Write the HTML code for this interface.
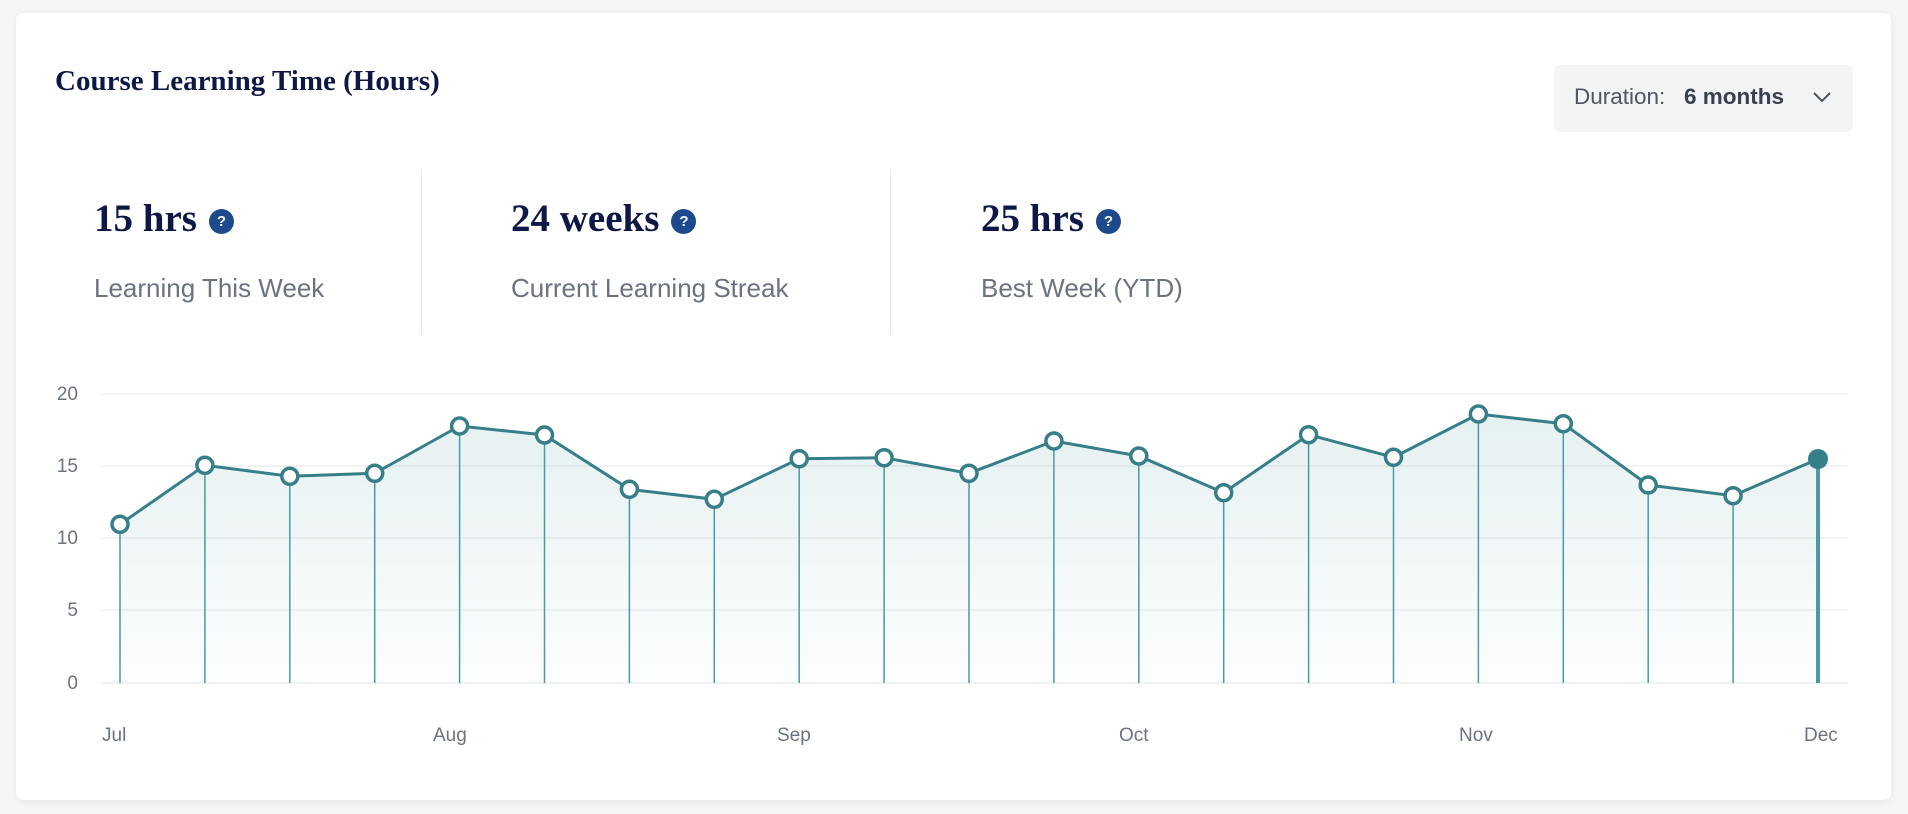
<!DOCTYPE html>
<html><head><meta charset="utf-8"><style>
html,body{margin:0;padding:0;width:1908px;height:814px;background:#f4f5f7;overflow:hidden;font-family:"Liberation Sans",sans-serif}
.card{position:absolute;left:16px;top:13px;width:1875px;height:787px;background:#fff;border-radius:7px;box-shadow:0 2px 8px rgba(0,0,0,0.06)}
.abs{position:absolute;white-space:nowrap}
.title{left:55px;top:65px;font-family:"Liberation Serif",serif;font-weight:bold;font-size:29px;color:#0d1846}
.dd{left:1554px;top:65px;width:299px;height:67px;background:#f3f4f6;border-radius:6px}
.big{font-family:"Liberation Serif",serif;font-weight:bold;font-size:39px;color:#0d1846;top:196px}
.q{display:inline-block;width:25px;height:25px;border-radius:50%;background:#1d4a8c;color:#fff;font:bold 15px "Liberation Sans",sans-serif;text-align:center;line-height:25px;vertical-align:5px;margin-left:12px}
.lab{font-size:26px;color:#6b7280;top:273px}
.div{position:absolute;top:170px;width:1px;height:163px;background:#e5e7eb}
</style></head><body>
<div class="card"></div>
<div class="abs title">Course Learning Time (Hours)</div>
<div class="abs dd"></div>
<div class="abs" style="left:1574px;top:84px;font-size:22.5px;color:#4b5563">Duration:</div>
<div class="abs" style="left:1684px;top:84px;font-size:22.5px;font-weight:bold;color:#374151">6 months</div>
<svg class="abs" style="left:1812px;top:90px" width="20" height="14"><path d="M2 3 L10 11 L18 3" fill="none" stroke="#4b5563" stroke-width="2"/></svg>
<div class="abs big" style="left:94px">15 hrs<span class="q">?</span></div>
<div class="abs big" style="left:511px">24 weeks<span class="q">?</span></div>
<div class="abs big" style="left:981px">25 hrs<span class="q">?</span></div>
<div class="abs lab" style="left:94px">Learning This Week</div>
<div class="abs lab" style="left:511px">Current Learning Streak</div>
<div class="abs lab" style="left:981px">Best Week (YTD)</div>
<div class="div" style="left:421px"></div>
<div class="div" style="left:890px"></div>
<svg class="abs" style="left:0;top:0" width="1908" height="814">
<defs><linearGradient id="g" x1="0" y1="0" x2="0" y2="1"><stop offset="0" stop-color="#3a8f96" stop-opacity="0.13"/><stop offset="1" stop-color="#3a8f96" stop-opacity="0.01"/></linearGradient></defs>
<g stroke="#f1f2f4" stroke-width="2">
<line x1="102" x2="1848" y1="394" y2="394"/><line x1="102" x2="1848" y1="466" y2="466"/><line x1="102" x2="1848" y1="538" y2="538"/><line x1="102" x2="1848" y1="610" y2="610"/><line x1="102" x2="1848" y1="683" y2="683"/>
</g>
<g font-family="Liberation Sans" font-size="19" fill="#6b7280" text-anchor="end">
<text x="78" y="400">20</text><text x="78" y="472">15</text><text x="78" y="544">10</text><text x="78" y="616">5</text><text x="78" y="689">0</text>
</g>
<g font-family="Liberation Sans" font-size="19" fill="#6b7280">
<text x="102" y="741">Jul</text><text x="433" y="741">Aug</text><text x="777" y="741">Sep</text><text x="1119" y="741">Oct</text><text x="1459" y="741">Nov</text><text x="1804" y="741">Dec</text>
</g>
<g id="chart"></g>
</svg>
<script>
var ys=[524.3,465.3,476.3,473.3,426,435,489.3,499.3,458.7,457.7,473.3,441,456,492.7,434.7,457.3,414,423.7,485,495.7,459];
var s='',pts=[];
for(var i=0;i<ys.length;i++){var x=120+i*84.9;pts.push(x.toFixed(1)+','+ys[i]);}
s+='<polygon points="120,683 '+pts.join(' ')+' 1818,683" fill="url(#g)"/>';
for(var i=0;i<ys.length;i++){var x=120+i*84.9;var last=i==ys.length-1;
s+='<line x1="'+x+'" x2="'+x+'" y1="'+ys[i]+'" y2="683" stroke="#4a9aa5" stroke-width="'+(last?4:1.5)+'"/>';}
s+='<polyline points="'+pts.join(' ')+'" fill="none" stroke="#377f88" stroke-width="3"/>';
for(var i=0;i<ys.length;i++){var x=120+i*84.9;var last=i==ys.length-1;
s+=last?'<circle cx="'+x+'" cy="'+ys[i]+'" r="10" fill="#377f88"/>':'<circle cx="'+x+'" cy="'+ys[i]+'" r="8" fill="#fff" stroke="#377f88" stroke-width="3.5"/>';}
document.getElementById('chart').innerHTML=s;
</script>
</body></html>
